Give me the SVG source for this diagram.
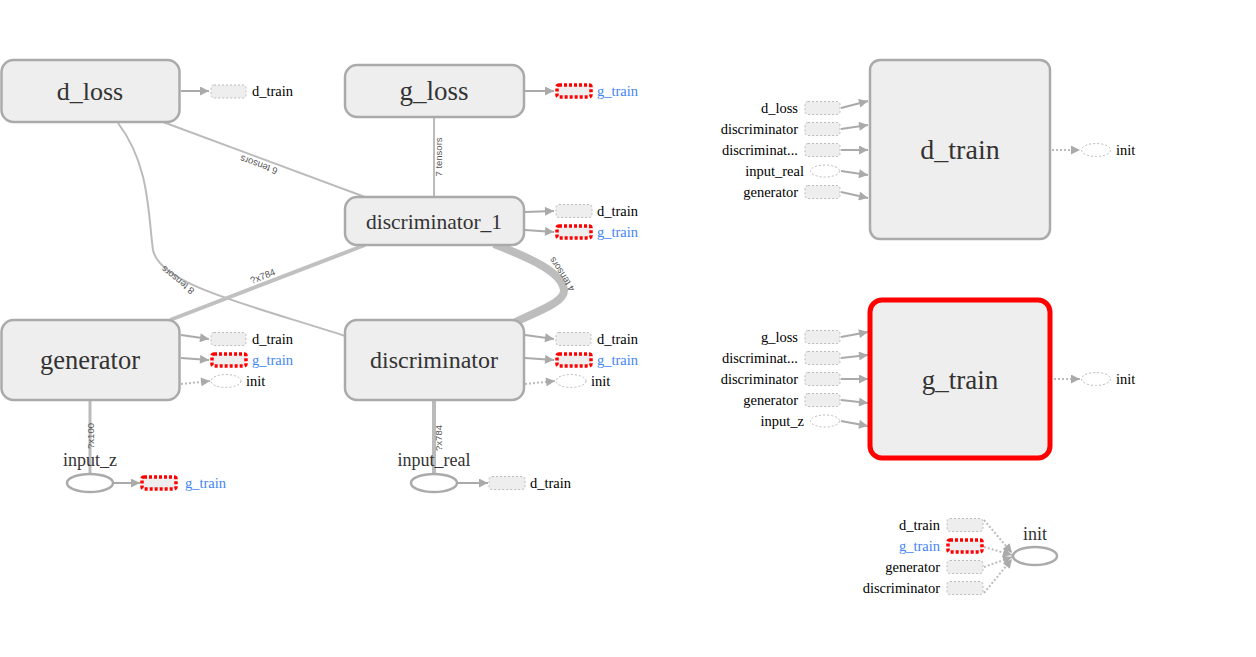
<svg xmlns="http://www.w3.org/2000/svg" width="1256" height="657" viewBox="0 0 1256 657">
<style>
.box{fill:#eee;stroke:#aaa;stroke-width:2.5}
.red{fill:#eee;stroke:#f00;stroke-width:5}
.lbl{font-family:"Liberation Serif",serif;fill:#333;text-anchor:middle}
.sm{font-family:"Liberation Serif",serif;font-size:14.5px;fill:#000}
.blue{fill:#4285f4}
.r{text-anchor:end}
.el{font-family:"Liberation Sans",sans-serif;font-size:9.5px;fill:#555;text-anchor:middle}
.e{fill:none;stroke:#bbb;stroke-width:2}
.se{fill:none;stroke:#aaa;stroke-width:2}
.dot{fill:none;stroke:#bbb;stroke-width:2;stroke-dasharray:2,2}
.sn{fill:#eee;stroke:#bbb;stroke-width:1;stroke-dasharray:2,2}
.sr{fill:#eee;stroke:#f00;stroke-width:3.5;stroke-dasharray:3,2}
.se2{fill:#fff;stroke:#bbb;stroke-width:1;stroke-dasharray:2,2}
.in{fill:#fff;stroke:#aaa;stroke-width:2.5}
</style>
<defs>
<marker id="ah" viewBox="0 0 10 10" refX="10" refY="5" markerWidth="10" markerHeight="9" markerUnits="userSpaceOnUse" orient="auto"><path d="M0,0 L10,5 L0,10 z" fill="#aaa"/></marker>
</defs>
<rect width="1256" height="657" fill="#fff"/>
<g id="connectors">
<path class="e" d="M163,122 L365,197"/>
<text class="el" transform="translate(261,159) rotate(200.4)" y="-3">6 tensors</text>
<path class="e" d="M434,117 L434,197"/>
<text class="el" transform="translate(442,157) rotate(-90)">7 tensors</text>
<path class="e" d="M118,123 C150,165 148,215 153,250 C160,285 250,305 345,336"/>
<text class="el" transform="translate(181,276) rotate(219)" y="-2">8 tensors</text>
<path class="e" style="stroke-width:4;stroke:#c0c0c0" d="M170,320 L365,245"/>
<text class="el" transform="translate(265,282) rotate(-21.2)" y="-3">?x784</text>
<path class="e" style="stroke-width:8;stroke:#bdbdbd" d="M494,244 C530,258 562,272 564,290 C565,303 535,312 514,323"/>
<text class="el" transform="translate(558,277) rotate(237)" y="8">4 tensors</text>
<path class="e" style="stroke-width:3" d="M90,400 L90,474"/>
<text class="el" transform="translate(94,436) rotate(-90)">?x100</text>
<path class="e" style="stroke-width:4" d="M434,400 L434,474"/>
<text class="el" transform="translate(442,438) rotate(-90)">?x784</text>
<path class="se" marker-end="url(#ah)" d="M181,91 L209,91"/>
<path class="se" marker-end="url(#ah)" d="M525,91 L554,91"/>
<path class="se" marker-end="url(#ah)" d="M525,212 L554,211"/>
<path class="se" marker-end="url(#ah)" d="M525,230 L554,232"/>
<path class="se" marker-end="url(#ah)" d="M181,335 L209,339"/>
<path class="se" marker-end="url(#ah)" d="M181,358 L209,360"/>
<path class="dot" marker-end="url(#ah)" d="M181,384 L210,381"/>
<path class="se" marker-end="url(#ah)" d="M525,335 L554,339"/>
<path class="se" marker-end="url(#ah)" d="M525,358 L554,360"/>
<path class="dot" marker-end="url(#ah)" d="M525,384 L555,381"/>
<path class="se" marker-end="url(#ah)" d="M113,483 L140,483"/>
<path class="se" marker-end="url(#ah)" d="M457,483 L488,483"/>
<path class="se" marker-end="url(#ah)" d="M841,108 L868,101"/>
<path class="se" marker-end="url(#ah)" d="M841,129 L868,125"/>
<path class="se" marker-end="url(#ah)" d="M841,150 L868,150"/>
<path class="se" marker-end="url(#ah)" d="M841,171 L868,175"/>
<path class="se" marker-end="url(#ah)" d="M841,192 L868,198"/>
<path class="dot" marker-end="url(#ah)" d="M1052,150 L1080,150"/>
<path class="se" marker-end="url(#ah)" d="M841,337 L868,332"/>
<path class="se" marker-end="url(#ah)" d="M841,358 L868,355"/>
<path class="se" marker-end="url(#ah)" d="M841,379 L868,379"/>
<path class="se" marker-end="url(#ah)" d="M841,400 L868,403"/>
<path class="se" marker-end="url(#ah)" d="M841,421 L868,426"/>
<path class="dot" marker-end="url(#ah)" d="M1054,379 L1080,379"/>
<path class="dot" marker-end="url(#ah)" d="M984,520 L1012,553"/>
<path class="dot" marker-end="url(#ah)" d="M984,547 L1012,555"/>
<path class="dot" marker-end="url(#ah)" d="M984,567 L1012,557"/>
<path class="dot" marker-end="url(#ah)" d="M984,593 L1012,559"/>
</g>
<g id="d_loss">
<rect class="box" x="1.5" y="60" width="178" height="62" rx="12"/>
<text class="lbl" x="90" y="100" font-size="26">d_loss</text>
<rect class="sn" x="211" y="85" width="35" height="13" rx="3"/>
<text class="sm" x="252" y="96">d_train</text>
</g>
<g id="g_loss">
<rect class="box" x="345" y="65" width="179" height="52" rx="12"/>
<text class="lbl" x="434" y="100" font-size="27">g_loss</text>
<rect class="sr" x="557" y="85" width="34" height="12" rx="2"/>
<text class="sm blue" x="597" y="96">g_train</text>
</g>
<g id="discriminator_1">
<rect class="box" x="345" y="197" width="179" height="48" rx="12"/>
<text class="lbl" x="434" y="229" font-size="21.5">discriminator_1</text>
<rect class="sn" x="556" y="204.5" width="36" height="13" rx="3"/>
<text class="sm" x="597" y="216">d_train</text>
<rect class="sr" x="557" y="226" width="34" height="12" rx="2"/>
<text class="sm blue" x="597" y="237">g_train</text>
</g>
<g id="generator">
<rect class="box" x="1.5" y="320" width="178" height="80" rx="12"/>
<text class="lbl" x="90" y="369" font-size="26.5">generator</text>
<rect class="sn" x="211" y="332.5" width="35" height="13" rx="3"/>
<text class="sm" x="252" y="344">d_train</text>
<rect class="sr" x="212" y="354" width="34" height="12" rx="2"/>
<text class="sm blue" x="252" y="365">g_train</text>
<ellipse class="se2" cx="226" cy="381" rx="15" ry="6.5"/>
<text class="sm" x="246" y="386">init</text>
</g>
<g id="discriminator">
<rect class="box" x="345" y="320" width="179" height="80" rx="12"/>
<text class="lbl" x="434" y="368" font-size="24">discriminator</text>
<rect class="sn" x="556" y="332.5" width="35" height="13" rx="3"/>
<text class="sm" x="597" y="344">d_train</text>
<rect class="sr" x="557" y="354" width="34" height="12" rx="2"/>
<text class="sm blue" x="597" y="365">g_train</text>
<ellipse class="se2" cx="571" cy="381" rx="15" ry="6.5"/>
<text class="sm" x="591" y="386">init</text>
</g>
<g id="input_z">
<ellipse class="in" cx="90" cy="483" rx="23" ry="9"/>
<text class="lbl" x="90" y="466" font-size="18">input_z</text>
<rect class="sr" x="142" y="477" width="34" height="12" rx="2"/>
<text class="sm blue" x="185" y="488">g_train</text>
</g>
<g id="input_real">
<ellipse class="in" cx="434" cy="483" rx="23" ry="9"/>
<text class="lbl" x="434" y="466" font-size="18">input_real</text>
<rect class="sn" x="489" y="476.5" width="36" height="13" rx="3"/>
<text class="sm" x="530" y="488">d_train</text>
</g>
<g id="d_train">
<rect class="box" x="870" y="60" width="180" height="179" rx="10"/>
<text class="lbl" x="960" y="159" font-size="28">d_train</text>
<rect class="sn" x="805" y="101.5" width="35" height="13" rx="3"/>
<text class="sm r" x="798" y="113">d_loss</text>
<rect class="sn" x="805" y="122.5" width="35" height="13" rx="3"/>
<text class="sm r" x="798" y="134">discriminator</text>
<rect class="sn" x="805" y="143.5" width="35" height="13" rx="3"/>
<text class="sm r" x="798" y="155">discriminat...</text>
<ellipse class="se2" cx="825" cy="171" rx="14.5" ry="6"/>
<text class="sm r" x="804" y="176">input_real</text>
<rect class="sn" x="805" y="185.5" width="35" height="13" rx="3"/>
<text class="sm r" x="798" y="197">generator</text>
<ellipse class="se2" cx="1096" cy="150" rx="14.5" ry="6.5"/>
<text class="sm" x="1116" y="155">init</text>
</g>
<g id="g_train">
<rect class="red" x="870" y="300" width="180" height="158" rx="12"/>
<text class="lbl" x="960" y="389" font-size="27">g_train</text>
<rect class="sn" x="805" y="330.5" width="35" height="13" rx="3"/>
<text class="sm r" x="798" y="342">g_loss</text>
<rect class="sn" x="805" y="351.5" width="35" height="13" rx="3"/>
<text class="sm r" x="798" y="363">discriminat...</text>
<rect class="sn" x="805" y="372.5" width="35" height="13" rx="3"/>
<text class="sm r" x="798" y="384">discriminator</text>
<rect class="sn" x="805" y="393.5" width="35" height="13" rx="3"/>
<text class="sm r" x="798" y="405">generator</text>
<ellipse class="se2" cx="825" cy="421" rx="14.5" ry="6"/>
<text class="sm r" x="804" y="426">input_z</text>
<ellipse class="se2" cx="1096" cy="379" rx="14.5" ry="6.5"/>
<text class="sm" x="1116" y="384">init</text>
</g>
<g id="init">
<ellipse class="in" cx="1035" cy="556" rx="22" ry="9"/>
<text class="lbl" x="1035" y="540" font-size="18">init</text>
<rect class="sn" x="947" y="518.5" width="36" height="13" rx="3"/>
<text class="sm r" x="940" y="530">d_train</text>
<rect class="sr" x="948" y="540" width="34" height="12" rx="2"/>
<text class="sm r blue" x="940" y="551">g_train</text>
<rect class="sn" x="947" y="560.5" width="36" height="13" rx="3"/>
<text class="sm r" x="940" y="572">generator</text>
<rect class="sn" x="947" y="581.5" width="36" height="13" rx="3"/>
<text class="sm r" x="940" y="593">discriminator</text>
</g>
</svg>
